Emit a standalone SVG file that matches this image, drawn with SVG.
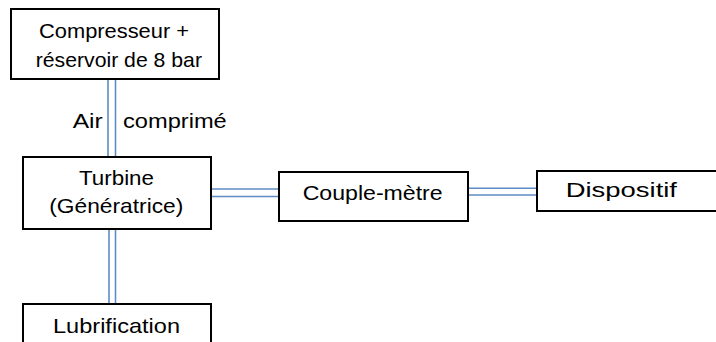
<svg xmlns="http://www.w3.org/2000/svg" width="716" height="342" viewBox="0 0 716 342">
<style>
.box{fill:#fff;stroke:#000;stroke-width:2}
.t{font-family:"Liberation Sans",Arial,sans-serif;font-size:21px;fill:#000}
.c{fill:none;stroke:#5f8cc4;stroke-width:1.6}
</style>
<rect width="716" height="342" fill="#fff"/>
<g id="connectors">
<line class="c" x1="108" y1="79" x2="108" y2="157"/>
<line class="c" x1="115.5" y1="79" x2="115.5" y2="157"/>
<line class="c" x1="109" y1="229" x2="109" y2="304"/>
<line class="c" x1="115.5" y1="229" x2="115.5" y2="304"/>
<line class="c" x1="211" y1="189" x2="279" y2="189"/>
<line class="c" x1="211" y1="196.5" x2="279" y2="196.5"/>
<line class="c" x1="468" y1="188.3" x2="537" y2="188.3"/>
<line class="c" x1="468" y1="195" x2="537" y2="195"/>
</g>
<g id="label-air">
<text class="t" x="72.7" y="128" textLength="30" lengthAdjust="spacingAndGlyphs">Air</text>
<text class="t" x="123" y="128" textLength="103.7" lengthAdjust="spacingAndGlyphs">comprimé</text>
</g>
<g id="compresseur">
<rect class="box" x="11" y="9" width="208" height="70"/>
<text class="t" x="39" y="38" textLength="150" lengthAdjust="spacingAndGlyphs">Compresseur +</text>
<text class="t" x="35.7" y="67" textLength="166.3" lengthAdjust="spacingAndGlyphs">réservoir de 8 bar</text>
</g>
<g id="turbine">
<rect class="box" x="23" y="157" width="188" height="72"/>
<text class="t" x="79" y="185" textLength="75" lengthAdjust="spacingAndGlyphs">Turbine</text>
<text class="t" x="49.3" y="213" textLength="134" lengthAdjust="spacingAndGlyphs">(Génératrice)</text>
</g>
<g id="couple-metre">
<rect class="box" x="279" y="172" width="189" height="49"/>
<text class="t" x="302.7" y="200" textLength="140" lengthAdjust="spacingAndGlyphs">Couple-mètre</text>
</g>
<g id="dispositif">
<rect class="box" x="537" y="171" width="185" height="40"/>
<text class="t" x="565.7" y="196.7" textLength="111.3" lengthAdjust="spacingAndGlyphs">Dispositif</text>
</g>
<g id="lubrification">
<rect class="box" x="23" y="304" width="188" height="50"/>
<text class="t" x="53" y="333" textLength="127" lengthAdjust="spacingAndGlyphs">Lubrification</text>
</g>
</svg>
